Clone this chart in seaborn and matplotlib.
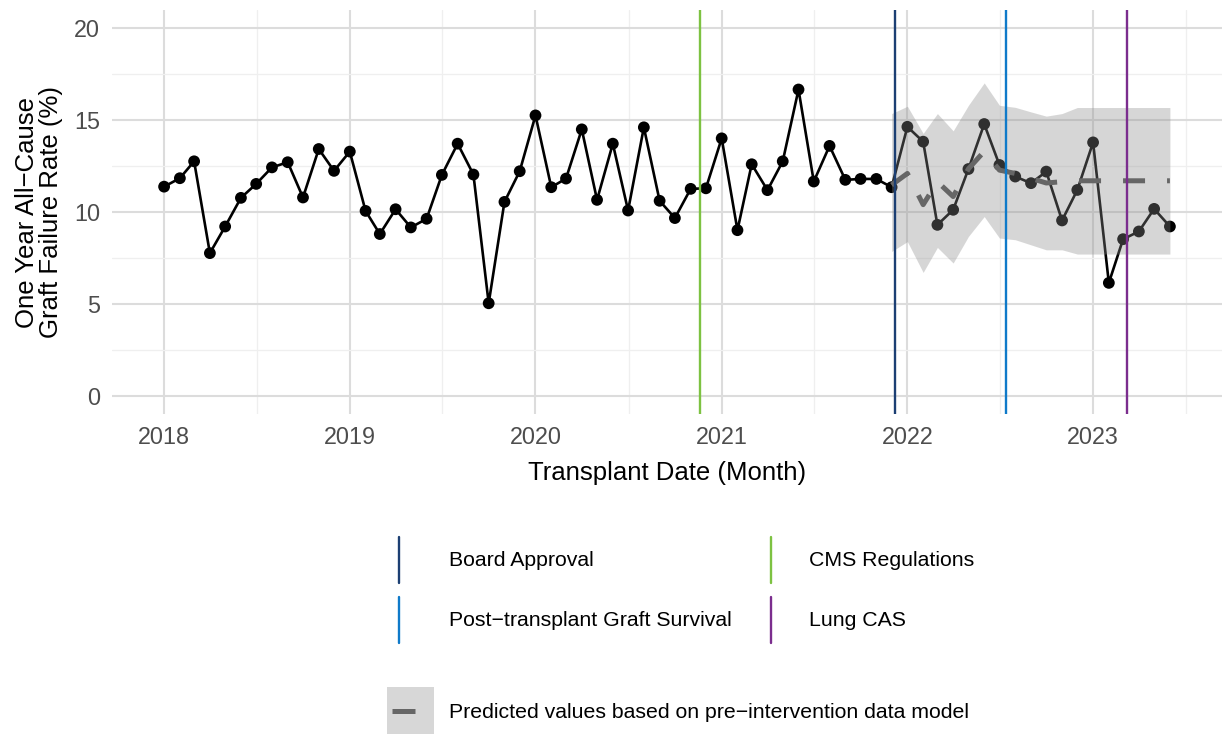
import numpy as np
import pandas as pd
import matplotlib
matplotlib.use("Agg")
import matplotlib.pyplot as plt
import matplotlib.dates as mdates
from matplotlib.lines import Line2D
from matplotlib.patches import Rectangle
import seaborn as sns

# ---------------- data ----------------
start_month = "2018-01-01"
end_month = "2023-06-01"
rates = [11.38, 11.84, 12.76, 7.76, 9.21, 10.77, 11.53, 12.43, 12.71, 10.79, 13.43, 12.24,
         13.29, 10.06, 8.80, 10.15, 9.16, 9.63, 12.02, 13.72, 12.04, 5.03, 10.55, 12.22,
         15.26, 11.35, 11.82, 14.50, 10.66, 13.72, 10.08, 14.61, 10.61, 9.67, 11.26, 11.29,
         14.01, 9.01, 12.60, 11.19, 12.76, 16.67, 11.66, 13.60, 11.75, 11.80, 11.80, 11.35,
         14.64, 13.83, 9.30, 10.12, 12.34, 14.79, 12.56, 11.93, 11.57, 12.20, 9.54, 11.20,
         13.79, 6.14, 8.52, 8.94, 10.17, 9.21]

pred_start = "2021-12-01"
pred_values = [11.47, 12.10, 10.40, 11.65, 10.84, 12.35, 13.30, 12.28, 12.10, 11.83, 11.58,
               11.65, 11.70, 11.70, 11.70, 11.70, 11.70, 11.70, 11.70]
pred_upper = [15.36, 15.76, 14.28, 15.36, 14.42, 15.81, 17.03, 15.81, 15.70, 15.45, 15.22,
              15.36, 15.69, 15.69, 15.69, 15.69, 15.69, 15.69, 15.69]
pred_lower = [7.85, 8.39, 6.71, 8.07, 7.22, 8.67, 9.75, 8.58, 8.49, 8.21, 7.94,
              7.94, 7.71, 7.71, 7.71, 7.71, 7.71, 7.71, 7.71]

event_names = ["Board Approval", "CMS Regulations", "Post\u2212transplant Graft Survival", "Lung CAS"]
event_dates = ["2021-12-07", "2020-11-20", "2022-07-14", "2023-03-09"]
event_colors = ["#1c3f73", "#7dc242", "#0f7ac9", "#7b2d8e"]

pred_label = "Predicted values based on pre\u2212intervention data model"
x_title = "Transplant Date (Month)"
y_title = "One Year All\u2212Cause\nGraft Failure Rate (%)"
year_ticks = ["2018", "2019", "2020", "2021", "2022", "2023"]
y_ticks = [0, 5, 10, 15, 20]

months = pd.date_range(start_month, end_month, freq="MS")
df = pd.DataFrame({"month": months, "rate": rates})
pred_months = pd.date_range(pred_start, periods=len(pred_values), freq="MS")
pdf = pd.DataFrame({"month": pred_months, "pred": pred_values,
                    "lo": pred_lower, "hi": pred_upper})

# ---------------- figure ----------------
sns.set_theme(style="white")
plt.rcParams["font.family"] = ["Liberation Sans", "DejaVu Sans"]
W, H = 1225, 734
fig = plt.figure(figsize=(W / 100, H / 100), dpi=100)
L, R, T, B = 112, 1222, 10, 414
ax = fig.add_axes([L / W, 1 - B / H, (R - L) / W, (B - T) / H])

def fx(px):
    return px / W

def fy(py):
    return 1 - py / H

# data line and points
sns.lineplot(data=df, x="month", y="rate", ax=ax, color="black", linewidth=1.9, zorder=3)
sns.scatterplot(data=df, x="month", y="rate", ax=ax, color="black", s=72,
                edgecolor="none", zorder=4)

# prediction ribbon (drawn over the observed series, as in the reference)
ax.fill_between(pdf["month"], pdf["lo"], pdf["hi"], color=(0.55, 0.55, 0.55),
                alpha=0.35, linewidth=0, zorder=5)
sns.lineplot(data=pdf, x="month", y="pred", ax=ax, color="#666666", linewidth=3.6,
             zorder=6, linestyle=(0, (4.4, 4.4)))

# intervention lines
for d, c in zip(event_dates, event_colors):
    ax.axvline(pd.Timestamp(d), color=c, linewidth=1.7, zorder=7)

# axes limits (expansion like the reference)
xmin, xmax = months.min(), months.max()
span = xmax - xmin
ax.set_xlim(xmin - 0.0518 * span, xmax + 0.0518 * span)
ax.set_ylim(-1, 21)

ax.set_xticks([pd.Timestamp(f"{y}-01-01") for y in year_ticks])
ax.set_xticklabels(year_ticks)
ax.set_xticks([pd.Timestamp(f"{y}-07-02") for y in year_ticks], minor=True)
ax.set_yticks(y_ticks)
ax.set_yticklabels([str(v) for v in y_ticks])
ax.set_yticks([2.5, 7.5, 12.5, 17.5], minor=True)

ax.grid(which="major", color="#dcdcdc", linewidth=1.5, zorder=0)
ax.grid(which="minor", color="#efefef", linewidth=0.9, zorder=0)
ax.set_axisbelow(True)
for s in ax.spines.values():
    s.set_visible(False)

ax.tick_params(axis="both", which="major", length=4.5, width=1.3, color="#333333",
               labelcolor="#4d4d4d", labelsize=16.8, direction="out")
ax.tick_params(axis="both", which="minor", length=0)
ax.tick_params(axis="x", pad=4)
ax.tick_params(axis="y", pad=4)

ax.set_xlabel(x_title, fontsize=18.5, color="black", labelpad=9)
ax.set_ylabel(y_title, fontsize=18.5, color="black", labelpad=8, linespacing=1.0)

# ---------------- legends (below plot) ----------------
col_key_x = [399, 771]
col_txt_x = [449, 809]
row_y = [560, 620]
key_half = 23
positions = [(0, 0), (1, 0), (0, 1), (1, 1)]
for name, c, (ci, ri) in zip(event_names, event_colors, positions):
    kx = col_key_x[ci]
    cy = row_y[ri]
    fig.add_artist(Line2D([fx(kx), fx(kx)], [fy(cy - key_half), fy(cy + key_half)],
                          color=c, linewidth=1.7))
    fig.text(fx(col_txt_x[ci]), fy(cy), name, fontsize=15.3, va="center", ha="left",
             color="black")

# predicted legend key
fig.add_artist(Rectangle((fx(387), fy(734)), fx(434) - fx(387), fy(687) - fy(734),
                         facecolor="#d7d7d7", edgecolor="none"))
fig.add_artist(Line2D([fx(392), fx(415)], [fy(711), fy(711)], color="#666666",
                      linewidth=3.6, solid_capstyle="butt"))
fig.text(fx(449), fy(712), pred_label, fontsize=15.3, va="center", ha="left", color="black")

fig.savefig("out.png", dpi=100)
